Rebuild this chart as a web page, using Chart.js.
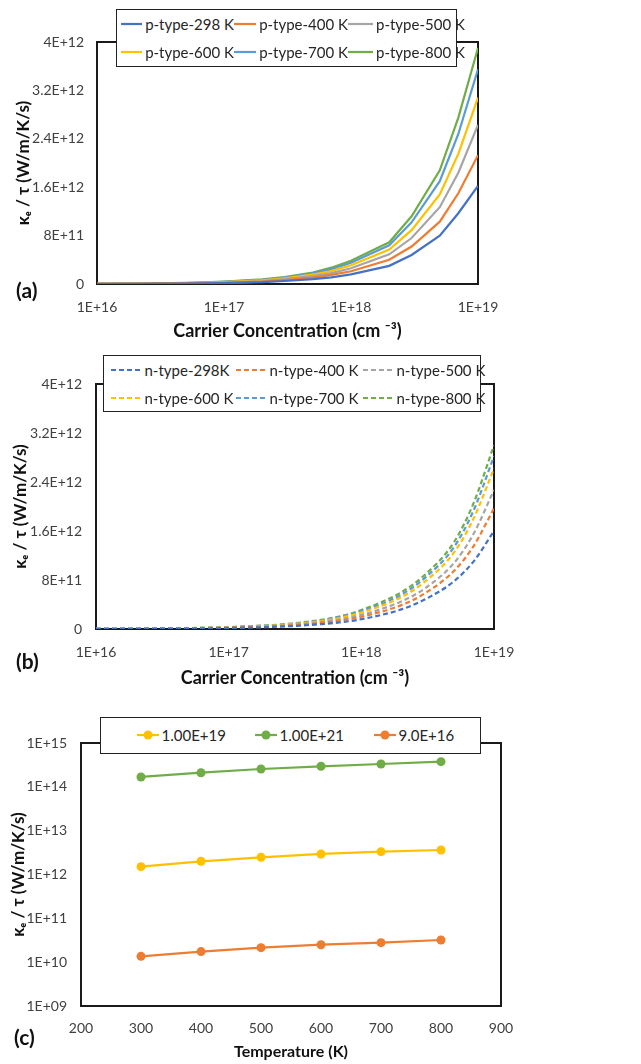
<!DOCTYPE html>
<html>
<head>
<meta charset="utf-8">
<script src="https://cdn.jsdelivr.net/npm/chart.js@4.4.1/dist/chart.umd.min.js"></script>
<style>
  body { margin: 0; background: #fff; font-family: Lato, "Open Sans", sans-serif; }
  canvas { position: absolute; left: 0; }
  .legend { position: absolute; background: #fff; border: 1.5px solid #222; box-sizing: border-box;
            display: grid; align-items: center; font-size: 15px; color: #262626; }
  .item { display: flex; align-items: center; white-space: nowrap; }
  .item svg { margin-right: 3px; }
  .tag { position: absolute; font-weight: bold; font-size: 21px; color: #111; }
</style>
</head>
<body>
<canvas id="chartA" width="641" height="345" style="top:0"></canvas>
<canvas id="chartB" width="641" height="345" style="top:345px"></canvas>
<canvas id="chartC" width="641" height="374" style="top:690px"></canvas>

<div id="legendA" class="legend" style="left:116px;top:9px;width:341px;height:58px;padding-left:4px;grid-template-columns:113px 114px 1fr;grid-template-rows:28px 28px"></div>
<div id="legendB" class="legend" style="left:103px;top:355px;width:378px;height:57px;padding-left:6.5px;grid-template-columns:125px 127px 1fr;grid-template-rows:28px 28px"></div>
<div id="legendC" class="legend" style="left:100px;top:717px;width:381px;height:37px;padding-left:35.5px;grid-template-columns:118px 119px 1fr;grid-template-rows:34px"></div>

<div class="tag" style="left:16px;top:277px">(a)</div>
<div class="tag" style="left:16px;top:648px">(b)</div>
<div class="tag" style="left:14px;top:1024px">(c)</div>

<script>
// carrier concentrations (cm^-3) used in panels (a) and (b)
const concentrations = [1e16, 2e16, 3e16, 5e16, 7e16, 1e17, 2e17, 3e17, 5e17, 7e17, 1e18, 2e18, 3e18, 5e18, 7e18, 1e19];
const concTicks = [1e16, 1e17, 1e18, 1e19];
const concTickLabels = ["1E+16", "1E+17", "1E+18", "1E+19"];
const kappaTicks = [0, 8e11, 1.6e12, 2.4e12, 3.2e12, 4e12];
const kappaTickLabels = ["0", "8E+11", "1.6E+12", "2.4E+12", "3.2E+12", "4E+12"];

// (a) p-type
const pLabels = ["p-type-298 K", "p-type-400 K", "p-type-500 K", "p-type-600 K", "p-type-700 K", "p-type-800 K"];
const p298 = [0.002e12, 0.003e12, 0.005e12, 0.008e12, 0.011e12, 0.016e12, 0.03e12, 0.05e12, 0.08e12, 0.11e12, 0.16e12, 0.30e12, 0.48e12, 0.80e12, 1.17e12, 1.62e12];
const p400 = [0.002e12, 0.004e12, 0.006e12, 0.01e12, 0.014e12, 0.02e12, 0.04e12, 0.065e12, 0.105e12, 0.15e12, 0.21e12, 0.40e12, 0.62e12, 1.03e12, 1.5e12, 2.13e12];
const p500 = [0.002e12, 0.005e12, 0.007e12, 0.012e12, 0.017e12, 0.025e12, 0.05e12, 0.08e12, 0.13e12, 0.18e12, 0.26e12, 0.49e12, 0.76e12, 1.27e12, 1.84e12, 2.63e12];
const p600 = [0.003e12, 0.006e12, 0.009e12, 0.014e12, 0.02e12, 0.03e12, 0.06e12, 0.093e12, 0.155e12, 0.215e12, 0.31e12, 0.57e12, 0.89e12, 1.48e12, 2.15e12, 3.08e12];
const p700 = [0.003e12, 0.007e12, 0.01e12, 0.016e12, 0.023e12, 0.034e12, 0.068e12, 0.105e12, 0.175e12, 0.245e12, 0.35e12, 0.64e12, 1.02e12, 1.7e12, 2.48e12, 3.55e12];
const p800 = [0.004e12, 0.008e12, 0.011e12, 0.018e12, 0.026e12, 0.038e12, 0.075e12, 0.115e12, 0.19e12, 0.27e12, 0.385e12, 0.69e12, 1.12e12, 1.88e12, 2.75e12, 3.9e12];

// (b) n-type
const nLabels = ["n-type-298K", "n-type-400 K", "n-type-500 K", "n-type-600 K", "n-type-700 K", "n-type-800 K"];
const n298 = [0.002e12, 0.003e12, 0.005e12, 0.008e12, 0.011e12, 0.016e12, 0.032e12, 0.048e12, 0.08e12, 0.11e12, 0.16e12, 0.32e12, 0.48e12, 0.78e12, 1.1e12, 1.6e12];
const n400 = [0.002e12, 0.004e12, 0.006e12, 0.01e12, 0.014e12, 0.02e12, 0.04e12, 0.06e12, 0.1e12, 0.14e12, 0.2e12, 0.39e12, 0.58e12, 0.95e12, 1.35e12, 1.97e12];
const n500 = [0.002e12, 0.005e12, 0.007e12, 0.011e12, 0.016e12, 0.023e12, 0.046e12, 0.07e12, 0.115e12, 0.16e12, 0.23e12, 0.45e12, 0.66e12, 1.08e12, 1.55e12, 2.27e12];
const n600 = [0.003e12, 0.005e12, 0.008e12, 0.013e12, 0.018e12, 0.027e12, 0.053e12, 0.08e12, 0.13e12, 0.185e12, 0.27e12, 0.52e12, 0.77e12, 1.25e12, 1.8e12, 2.62e12];
const n700 = [0.003e12, 0.006e12, 0.009e12, 0.014e12, 0.02e12, 0.029e12, 0.057e12, 0.085e12, 0.14e12, 0.2e12, 0.29e12, 0.56e12, 0.83e12, 1.34e12, 1.93e12, 2.82e12];
const n800 = [0.003e12, 0.006e12, 0.009e12, 0.015e12, 0.021e12, 0.031e12, 0.061e12, 0.09e12, 0.15e12, 0.21e12, 0.31e12, 0.6e12, 0.88e12, 1.42e12, 2.05e12, 3.0e12];

// (c) versus temperature
const temperatures = [300, 400, 500, 600, 700, 800];
const tempTicks = [200, 300, 400, 500, 600, 700, 800, 900];
const cLabels = ["1.00E+19", "1.00E+21", "9.0E+16"];
const c1e19 = [1.51e12, 2.0e12, 2.47e12, 2.94e12, 3.32e12, 3.62e12];
const c1e21 = [1.68e14, 2.1e14, 2.55e14, 2.94e14, 3.32e14, 3.75e14];
const c9e16 = [1.36e10, 1.74e10, 2.14e10, 2.5e10, 2.79e10, 3.2e10];
const logTicks = [1e9, 1e10, 1e11, 1e12, 1e13, 1e14, 1e15];
const logTickLabels = ["1E+09", "1E+10", "1E+11", "1E+12", "1E+13", "1E+14", "1E+15"];

const colors = ["#4472C4", "#ED7D31", "#A5A5A5", "#FFC000", "#5B9BD5", "#70AD47"];
const tickFont = { family: "Lato", size: 14 };
const tickColor = "#404040";
const yTitle = "\u03BA\u2091 / \u03C4 (W/m/K/s)";

// black box around the plot area, like the Excel plot border
const frame = {
    id: "frame",
    beforeDatasetsDraw(chart) {
        const { ctx, chartArea: a } = chart;
        ctx.save();
        ctx.strokeStyle = "#1a1a1a";
        ctx.lineWidth = 2;
        ctx.strokeRect(a.left, a.top, a.right - a.left, a.bottom - a.top);
        ctx.restore();
    }
};

function points(xs, ys) {
    return xs.map((x, i) => ({ x: x, y: ys[i] }));
}

function fixedTicks(values) {
    return scale => { scale.ticks = values.map(v => ({ value: v })); };
}

function xAxis(type, min, max, ticks, labels, height, title, titleSize, pad) {
    return {
        type: type, min: min, max: max,
        grid: { display: false, drawTicks: false }, border: { display: false },
        afterBuildTicks: fixedTicks(ticks),
        afterFit: s => { s.height = height; s.paddingLeft = 0; s.paddingRight = 0; },
        ticks: { padding: pad, color: tickColor, font: tickFont, autoSkip: false, maxRotation: 0,
                 callback: (v, i) => labels[i] },
        title: { display: true, text: title, color: "#111", padding: { top: 0, bottom: 0 },
                 font: { family: "Lato", size: titleSize, weight: "bold" } }
    };
}

function yAxis(type, min, max, ticks, labels, width, titlePad, pad) {
    return {
        type: type, min: min, max: max,
        grid: { display: false, drawTicks: false }, border: { display: false },
        afterBuildTicks: fixedTicks(ticks),
        afterFit: s => { s.width = width; s.paddingTop = 0; s.paddingBottom = 0; },
        ticks: { padding: pad, color: tickColor, font: tickFont, autoSkip: false,
                 callback: (v, i) => labels[i] },
        title: { display: true, text: yTitle, color: "#111", padding: { top: titlePad, bottom: 0 },
                 font: { family: "Lato", size: 17, weight: "bold" } }
    };
}

function makeChart(id, datasets, scales, padding) {
    return new Chart(document.getElementById(id), {
        type: "line",
        data: { datasets: datasets },
        options: {
            responsive: false,
            animation: false,
            layout: { padding: padding, autoPadding: false },
            plugins: { legend: { display: false }, tooltip: { enabled: false } },
            scales: scales
        },
        plugins: [frame]
    });
}

// html legend built from the chart's own datasets
function buildLegend(chart, elId, lineLen) {
    const el = document.getElementById(elId);
    chart.data.datasets.forEach(ds => {
        const dash = ds.borderDash && ds.borderDash.length ? ds.borderDash.join(",") : "none";
        let svg = '<svg width="' + lineLen + '" height="12"><line x1="0" y1="6" x2="' + lineLen + '" y2="6" stroke="' +
            ds.borderColor + '" stroke-width="2.2" stroke-dasharray="' + dash + '"/>';
        if (ds.pointRadius > 0) {
            svg += '<circle cx="' + lineLen / 2 + '" cy="6" r="' + ds.pointRadius + '" fill="' + ds.borderColor + '"/>';
        }
        svg += "</svg>";
        const item = document.createElement("div");
        item.className = "item";
        item.innerHTML = svg + "<span>" + ds.label + "</span>";
        el.appendChild(item);
    });
}

const pSeries = [p298, p400, p500, p600, p700, p800];
const nSeries = [n298, n400, n500, n600, n700, n800];
const cSeries = [c1e19, c1e21, c9e16];
const cColors = [colors[3], colors[5], colors[1]];

const chartA = makeChart("chartA",
    pSeries.map((s, i) => ({ label: pLabels[i], data: points(concentrations, s), borderColor: colors[i],
        borderWidth: 2.2, pointRadius: 0, tension: 0 })),
    {
        x: xAxis("logarithmic", 1e16, 1e19, concTicks, concTickLabels, 58, "Carrier Concentration (cm \u207B\u00B3)", 18, 15),
        y: yAxis("linear", 0, 4e12, kappaTicks, kappaTickLabels, 97, 13, 13)
    },
    { top: 42, left: 0, right: 163, bottom: 3 });

const chartB = makeChart("chartB",
    nSeries.map((s, i) => ({ label: nLabels[i], data: points(concentrations, s), borderColor: colors[i],
        borderWidth: 2.2, borderDash: [5, 3], pointRadius: 0, cubicInterpolationMode: "monotone" })),
    {
        x: xAxis("logarithmic", 1e16, 1e19, concTicks, concTickLabels, 60, "Carrier Concentration (cm \u207B\u00B3)", 18, 15),
        y: yAxis("linear", 0, 4e12, kappaTicks, kappaTickLabels, 96, 10, 14)
    },
    { top: 39, left: 0, right: 147, bottom: 1 });

const chartC = makeChart("chartC",
    cSeries.map((s, i) => ({ label: cLabels[i], data: points(temperatures, s), borderColor: cColors[i],
        backgroundColor: cColors[i], borderWidth: 2.2, pointRadius: 4.5, pointBorderWidth: 0, tension: 0 })),
    {
        x: xAxis("linear", 200, 900, tempTicks, tempTicks.map(String), 55, "Temperature (K)", 16, 14),
        y: yAxis("logarithmic", 1e9, 1e15, logTicks, logTickLabels, 81, 8, 14)
    },
    { top: 53, left: 0, right: 140, bottom: 3 });

buildLegend(chartA, "legendA", 25);
buildLegend(chartB, "legendB", 31);
buildLegend(chartC, "legendC", 22);
</script>
</body>
</html>
